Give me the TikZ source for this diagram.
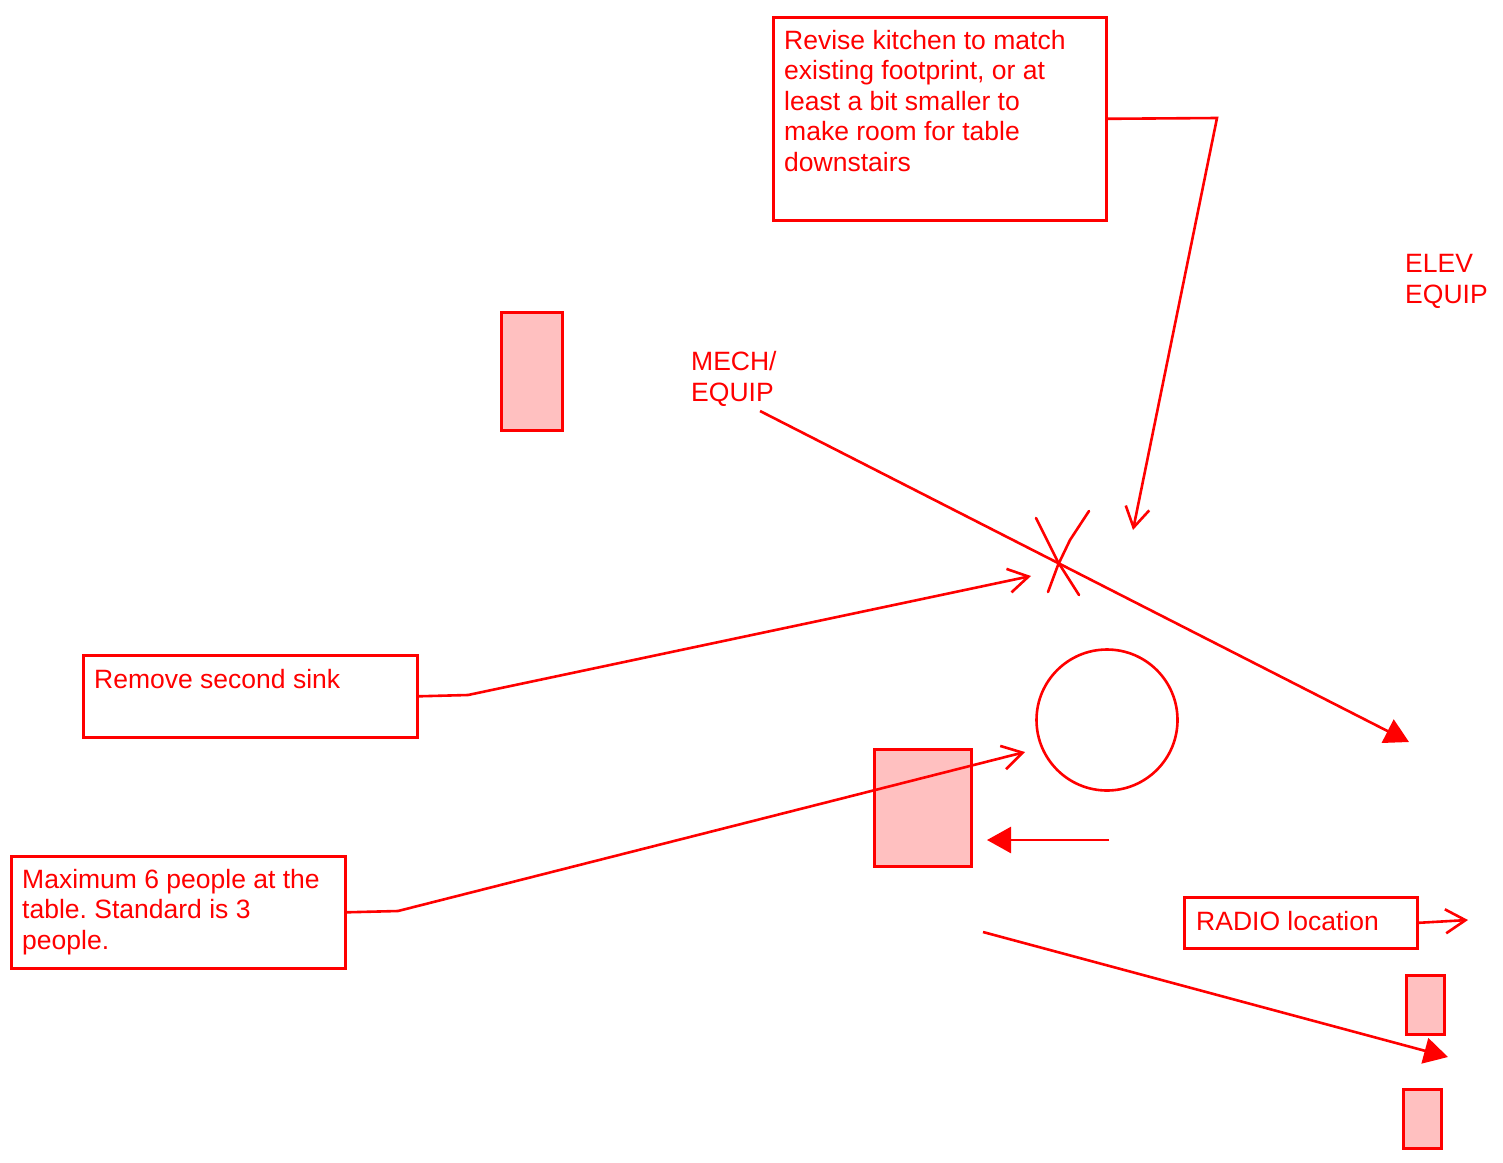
\documentclass[tikz,border=0pt]{standalone}
\usepackage{fontspec}
\setmainfont{Liberation Sans}
\usetikzlibrary{arrows.meta,positioning}
\definecolor{notered}{RGB}{255,0,0}
\definecolor{notepink}{RGB}{255,192,192}
\frenchspacing

\begin{document}
\begin{tikzpicture}[x=1pt,y=-1pt,
        every node/.style={text=notered, font=\fontsize{26.5}{30.5}\selectfont},
        notebox/.style={draw=notered, line width=2.6pt, inner sep=0pt, anchor=north west},
        notetext/.style={anchor=base west, align=left, inner sep=0pt},
        block/.style={draw=notered, fill=notepink, line width=2.6pt, inner sep=0pt, anchor=north west},
        lead/.style={draw=notered, line width=2.6pt, -{Straight Barb[length=20pt,width=24pt]}},
        pointer/.style={draw=notered, line width=2.6pt, -{Triangle[length=24pt,width=26pt]}}]
        \useasboundingbox (0,0) rectangle (1503,1162);

        % note boxes (text nodes sit on the baseline of their last line)
        \node[notebox, minimum width=333pt, minimum height=203pt] (kitchen) at (772,16) {};
        \node[notetext] (kitchentext) at (784,171) {Revise kitchen to match\\existing footprint, or at\\least a bit smaller to\\make room for table\\downstairs};
        \node[notebox, minimum width=334pt, minimum height=82pt] (sink) at (82,654) {};
        \node[notetext] (sinktext) at (94,688) {Remove second sink};
        \node[notebox, minimum width=334pt, minimum height=112pt] (people) at (10,855) {};
        \node[notetext] (peopletext) at (22,949) {Maximum 6 people at the\\table. Standard is 3\\people.};
        \node[notebox, minimum width=233pt, minimum height=51pt] (radio) at (1183,896) {};
        \node[notetext] (radiotext) at (1196,930) {RADIO location};

        % room labels
        \node[notetext] (elev) at (1405,303) {ELEV\\EQUIP};
        \node[notetext] (mech) at (691,401) {MECH/\\EQUIP};

        % furniture
        \node[block, minimum width=61pt, minimum height=118pt] (cabinet) at (500,311) {};
        \node[block, minimum width=97pt, minimum height=117pt] (chair) at (873,748) {};
        \node[block, minimum width=38pt, minimum height=59pt] (radiotop) at (1405,974) {};
        \node[block, minimum width=38pt, minimum height=59pt] (radiobottom) at (1402,1088) {};
        \node[draw=notered, line width=2.6pt, circle, minimum size=141pt, inner sep=0pt] (table) at (1107,720) {};

        % ends of the leaders
        \coordinate (kitchenbend) at (1217,118);
        \coordinate (kitchenend) at (1133,530);
        \coordinate (sinkbend) at (468,695);
        \coordinate (sinkend) at (1031,576);
        \coordinate (peoplebend) at (398,911);
        \coordinate (peopleend) at (1025,752);
        \coordinate (radioend) at (1468,920);
        \coordinate (mechstart) at (760,411);
        \coordinate (mechend) at (1409,742);
        \coordinate (chairstart) at (1109,840);
        \coordinate (chairend) at (987,840);
        \coordinate (radiostart) at (983,932);
        \coordinate (radioarrow) at (1448,1057);

        \draw[lead] (kitchen.east) -- (kitchenbend) -- (kitchenend);
        \draw[lead] (sink.east) -- (sinkbend) -- (sinkend);
        \draw[lead] (people.east) -- (peoplebend) -- (peopleend);
        \draw[lead] (radio.east) -- (radioend);
        \draw[pointer] (mechstart) -- (mechend);
        \draw[pointer] (chairstart) -- (chairend);
        \draw[pointer] (radiostart) -- (radioarrow);

        % the X over the second sink
        \draw[notered, line width=2.6pt, line cap=round] (1036,518) -- (1058,562) -- (1079,595);
        \draw[notered, line width=2.6pt, line cap=round] (1089,511) -- (1070,540) -- (1058,565) -- (1048,592);
    \end{tikzpicture}
\end{document}
